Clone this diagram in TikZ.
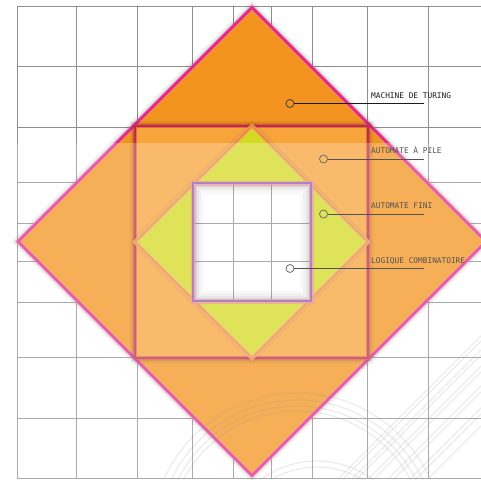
\documentclass[tikz,border=0pt]{standalone}
\usepackage{fontspec}
\newfontfamily\labelfont{DejaVu Sans Mono}
\definecolor{gridc}{HTML}{8E8E8E}
\definecolor{orangeA}{HTML}{F39320}
\definecolor{orangeB}{HTML}{F7A53A}
\definecolor{yellowA}{HTML}{D4DA22}
\definecolor{magentaE}{HTML}{E2288A}
\definecolor{pinkH}{HTML}{F27DB8}
\definecolor{crimsonE}{HTML}{C42A3E}
\definecolor{orangeE}{HTML}{F08C3C}
\definecolor{purpleE}{HTML}{8F5EA9}
\definecolor{textc}{HTML}{1A1A1A}
\definecolor{decoc}{HTML}{9A9A9A}
\tikzset{
  gridline/.style={draw=gridc, line width=0.8pt},
  halo/.style={draw=black, line join=miter},
  lbl/.style={font=\labelfont\fontsize{7.8}{8}\selectfont, text=textc, inner sep=0pt, anchor=base west},
  dotmark/.style={circle, draw=textc!85, line width=0.8pt, minimum size=8pt, inner sep=0pt},
  conn/.style={draw=textc, line width=0.8pt},
  deco/.style={draw=decoc, line width=1.2pt, opacity=0.18},
}
\begin{document}
\begin{tikzpicture}[x=1pt,y=-1pt]
\useasboundingbox (0,0) rectangle (481,479);
\fill[white] (0,0) rectangle (481,479);
% background grid
\foreach \x in {17,76,137,192,233,271,312,367,428} \draw[gridline] (\x,6) -- (\x,478);
\foreach \y in {6,66,127,182,223,261,302,357,418,478} \draw[gridline] (17,\y) -- (481,\y);
% outer diamond
\def\outer{(252,7.5) -- (486,241.5) -- (252,475.5) -- (18,241.5) -- cycle}
\foreach \w/\o in {11/0.03,8/0.05,5.5/0.07} \draw[halo, line width=\w pt, opacity=\o] \outer;
\fill[orangeA] \outer;
\draw[pinkH, line width=4.5pt, opacity=0.5, line join=miter] \outer;
\draw[magentaE, line width=2.6pt, line join=miter] \outer;
% square
\def\sq{(135,126) rectangle (368,358)}
\foreach \w/\o in {11/0.03,8/0.05,5.5/0.07} \draw[halo, line width=\w pt, opacity=\o] \sq;
\fill[orangeB] \sq;
\draw[crimsonE!70!pinkH, line width=4.5pt, opacity=0.6] \sq;
\draw[crimsonE, line width=2.8pt] \sq;
% yellow diamond
\def\yd{(252,126) -- (368,242) -- (252,358) -- (135,242) -- cycle}
\foreach \w/\o in {8/0.04,5.5/0.06} \draw[halo, line width=\w pt, opacity=\o] \yd;
\fill[yellowA] \yd;
\draw[orangeE!60!white, line width=4.5pt, opacity=0.6, line join=miter] \yd;
\draw[orangeE, line width=2.6pt, line join=miter] \yd;
% inner white square with grid and inset shadow
\def\isq{(193,183) rectangle (311,301)}
\fill[white] \isq;
\begin{scope}
  \clip \isq;
  \foreach \x in {233,271} \draw[gridline] (\x,183) -- (\x,301);
  \foreach \y in {223,261} \draw[gridline] (193,\y) -- (311,\y);
  \foreach \w/\o in {22/0.03,16/0.04,11/0.06,7/0.08} \draw[black, line width=\w pt, opacity=\o] \isq;
\end{scope}
\draw[pinkH!70!orangeE, line width=5pt, opacity=0.7] \isq;
\draw[purpleE, line width=2.4pt] \isq;
% labels and markers
\node[lbl] (ltm) at (371,98.5) {MACHINE DE TURING};
\node[lbl] (lap) at (371,153.5) {AUTOMATE À PILE};
\node[lbl] (laf) at (371,208.7) {AUTOMATE FINI};
\node[lbl] (llc) at (371,263.8) {LOGIQUE COMBINATOIRE};
\node[dotmark] (dtm) at (290,103.5) {};
\node[dotmark] (dap) at (323.5,159) {};
\node[dotmark] (daf) at (323.5,214) {};
\node[dotmark] (dlc) at (290,268.5) {};
\coordinate (etm) at (424,103.5);
\coordinate (eap) at (424,159);
\coordinate (eaf) at (424,214);
\coordinate (elc) at (424,268.5);
\draw[conn] (dtm) -- (etm);
\draw[conn] (dap) -- (eap);
\draw[conn] (daf) -- (eaf);
\draw[conn] (dlc) -- (elc);
% translucent white band
\fill[white, opacity=0.25] (0,143) rectangle (481,479);
% faint decorations
\foreach \r in {128,133,139,146} \draw[deco] ([shift={(205:\r)}]297,539) arc[start angle=205, end angle=335, radius=\r];
\foreach \r in {88,94} \draw[deco] ([shift={(215:\r)}]317,555) arc[start angle=215, end angle=325, radius=\r];
\foreach \d in {0,5,14,19,30,36,50,56,72,78,90} \draw[deco] (338+\d,479) -- (481,336+\d);
\end{tikzpicture}
\end{document}
